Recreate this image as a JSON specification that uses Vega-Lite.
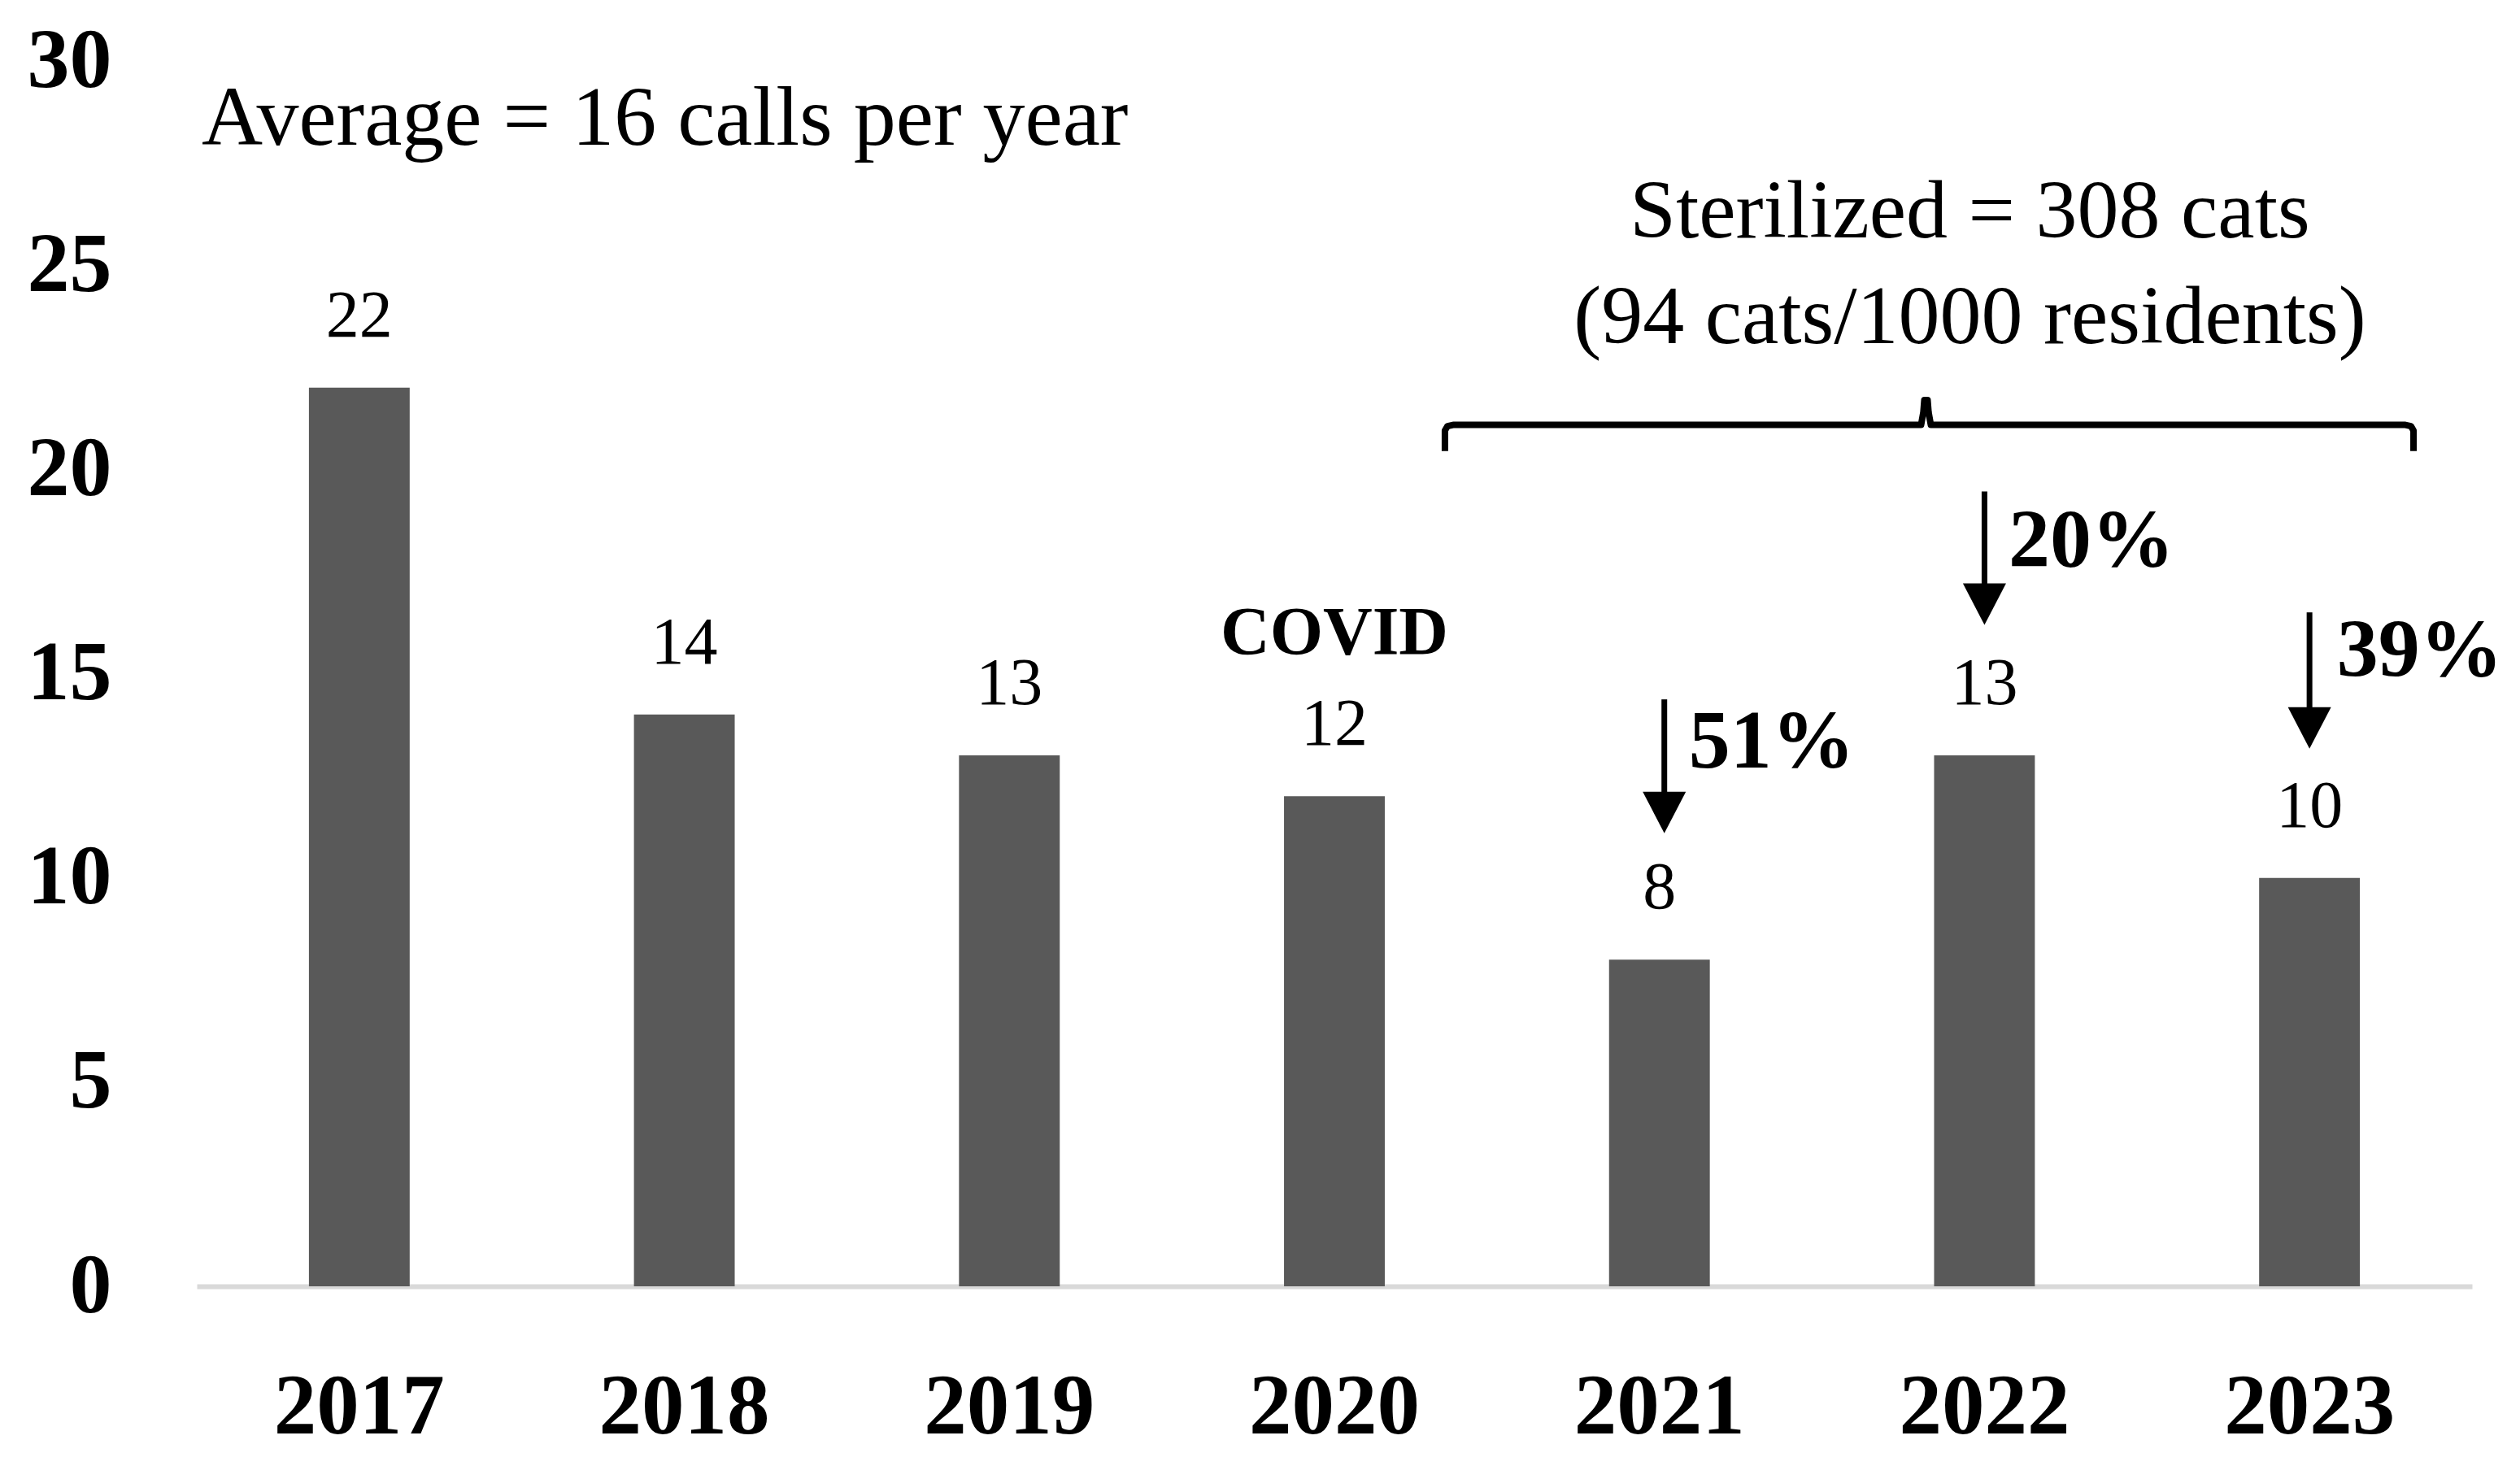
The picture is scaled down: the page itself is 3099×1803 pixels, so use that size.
{
  "$schema": "https://vega.github.io/schema/vega-lite/v6.json",
  "width": 2798,
  "height": 1507,
  "autosize": {"type": "none"},
  "padding": {"left": 242, "top": 75, "right": 59, "bottom": 221},
  "background": "white",
  "config": {"view": {"stroke": null}, "font": "Liberation Serif"},
  "datasets": {
    "calls": [
      {"year": "2017", "calls": 22},
      {"year": "2018", "calls": 14},
      {"year": "2019", "calls": 13},
      {"year": "2020", "calls": 12},
      {"year": "2021", "calls": 8},
      {"year": "2022", "calls": 13},
      {"year": "2023", "calls": 10}
    ],
    "leftNotes": [
      {"label": "Average = 16 calls per year", "pos": 0.015, "val": 27.94}
    ],
    "notes": [
      {"label": "Sterilized = 308 cats", "pos": 5.455, "val": 25.69},
      {"label": "(94 cats/1000 residents)", "pos": 5.455, "val": 23.1}
    ],
    "boldNotes": [
      {"label": "COVID", "pos": 3.5, "val": 15.46}
    ],
    "pcts": [
      {"label": "51%", "pos": 4.59, "val": 12.7},
      {"label": "20%", "pos": 5.574, "val": 17.62},
      {"label": "39%", "pos": 6.584, "val": 14.94}
    ],
    "brace": [
      {"o": 1, "pos": 3.84, "val": 20.45},
      {"o": 2, "pos": 3.84, "val": 20.95},
      {"o": 3, "pos": 3.848, "val": 21.06},
      {"o": 4, "pos": 3.865, "val": 21.09},
      {"o": 5, "pos": 5.305, "val": 21.09},
      {"o": 6, "pos": 5.312, "val": 21.4},
      {"o": 7, "pos": 5.315, "val": 21.7},
      {"o": 8, "pos": 5.325, "val": 21.7},
      {"o": 9, "pos": 5.328, "val": 21.4},
      {"o": 10, "pos": 5.335, "val": 21.09},
      {"o": 11, "pos": 6.795, "val": 21.09},
      {"o": 12, "pos": 6.812, "val": 21.06},
      {"o": 13, "pos": 6.82, "val": 20.95},
      {"o": 14, "pos": 6.82, "val": 20.45}
    ],
    "arrowShafts": [
      {"id": "2021", "pos": 4.515, "val": 14.37},
      {"id": "2021", "pos": 4.515, "val": 11.9},
      {"id": "2022", "pos": 5.5, "val": 19.46},
      {"id": "2022", "pos": 5.5, "val": 17.0},
      {"id": "2023", "pos": 6.5, "val": 16.5},
      {"id": "2023", "pos": 6.5, "val": 14.0}
    ],
    "arrowHeads": [
      {"id": "2021", "pos": 4.515, "val": 11.6},
      {"id": "2022", "pos": 5.5, "val": 16.7},
      {"id": "2023", "pos": 6.5, "val": 13.67}
    ]
  },
  "layer": [
    {
      "layer": [
        {
          "data": {"name": "calls"},
          "mark": {"type": "bar", "color": "#595959"},
          "encoding": {
            "x": {
              "field": "year",
              "type": "ordinal",
              "scale": {"paddingInner": 0.69, "paddingOuter": 0.345},
              "axis": {
                "title": null,
                "labelAngle": 0,
                "labelLimit": 0,
                "labelFont": "Liberation Serif",
                "labelFontWeight": "bold",
                "labelFontSize": 105,
                "labelColor": "black",
                "labelPadding": 97,
                "ticks": false,
                "domainColor": "#d9d9d9",
                "domainWidth": 6
              }
            },
            "y": {
              "field": "calls",
              "type": "quantitative",
              "scale": {"domain": [0, 30], "nice": false},
              "axis": {
                "title": null,
                "values": [0, 5, 10, 15, 20, 25, 30],
                "grid": false,
                "domain": false,
                "ticks": false,
                "labelFont": "Liberation Serif",
                "labelFontWeight": "bold",
                "labelFontSize": 104,
                "labelColor": "black",
                "labelPadding": 105
              }
            }
          }
        },
        {
          "data": {"name": "calls"},
          "mark": {"type": "text", "baseline": "alphabetic", "dy": -63, "fontSize": 82, "font": "Liberation Serif", "color": "black"},
          "encoding": {
            "x": {"field": "year", "type": "ordinal"},
            "y": {"field": "calls", "type": "quantitative"},
            "text": {"field": "calls", "type": "quantitative"}
          }
        }
      ]
    },
    {
      "layer": [
        {
          "data": {"name": "leftNotes"},
          "mark": {"type": "text", "baseline": "alphabetic", "align": "left", "fontSize": 104, "font": "Liberation Serif", "color": "black"},
          "encoding": {
            "x": {"field": "pos", "type": "quantitative", "scale": {"domain": [0, 7], "nice": false, "zero": false}, "axis": null},
            "y": {"field": "val", "type": "quantitative"},
            "text": {"field": "label"}
          }
        },
        {
          "data": {"name": "notes"},
          "mark": {"type": "text", "baseline": "alphabetic", "align": "center", "fontSize": 102, "font": "Liberation Serif", "color": "black"},
          "encoding": {
            "x": {"field": "pos", "type": "quantitative"},
            "y": {"field": "val", "type": "quantitative"},
            "text": {"field": "label"}
          }
        },
        {
          "data": {"name": "boldNotes"},
          "mark": {"type": "text", "baseline": "alphabetic", "fontSize": 84, "fontWeight": "bold", "font": "Liberation Serif", "color": "black", "align": "center"},
          "encoding": {
            "x": {"field": "pos", "type": "quantitative"},
            "y": {"field": "val", "type": "quantitative"},
            "text": {"field": "label"}
          }
        },
        {
          "data": {"name": "pcts"},
          "mark": {"type": "text", "baseline": "alphabetic", "fontSize": 102, "fontWeight": "bold", "font": "Liberation Serif", "color": "black", "align": "left"},
          "encoding": {
            "x": {"field": "pos", "type": "quantitative"},
            "y": {"field": "val", "type": "quantitative"},
            "text": {"field": "label"}
          }
        },
        {
          "data": {"name": "brace"},
          "mark": {"type": "line", "color": "black", "strokeWidth": 8, "strokeJoin": "round", "strokeCap": "butt"},
          "encoding": {
            "x": {"field": "pos", "type": "quantitative"},
            "y": {"field": "val", "type": "quantitative"},
            "order": {"field": "o", "type": "quantitative"}
          }
        },
        {
          "data": {"name": "arrowShafts"},
          "mark": {"type": "line", "color": "black", "strokeWidth": 7},
          "encoding": {
            "x": {"field": "pos", "type": "quantitative"},
            "y": {"field": "val", "type": "quantitative"},
            "detail": {"field": "id"}
          }
        },
        {
          "data": {"name": "arrowHeads"},
          "mark": {"type": "point", "shape": "M-1.04,-1L1.04,-1L0,1Z", "size": 2601, "filled": true, "color": "black", "opacity": 1, "strokeWidth": 0},
          "encoding": {
            "x": {"field": "pos", "type": "quantitative"},
            "y": {"field": "val", "type": "quantitative"}
          }
        }
      ]
    }
  ],
  "resolve": {"scale": {"x": "independent"}}
}
